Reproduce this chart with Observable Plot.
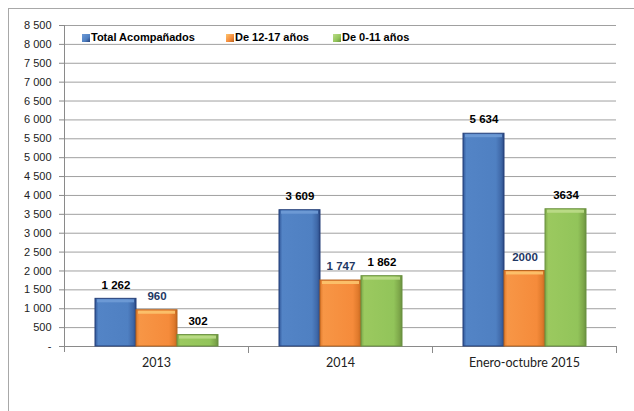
<!DOCTYPE html>
<html>
<head>
<meta charset="utf-8">
<script src="https://cdn.jsdelivr.net/npm/d3@7"></script>
<script src="https://cdn.jsdelivr.net/npm/@observablehq/plot@0.6"></script>
<style>
  body { margin: 0; background: #fff; }
  #wrap { position: relative; width: 634px; height: 411px; overflow: hidden; background: #fff;
          font-family: "Liberation Sans", Arial, sans-serif; }
  #border { position: absolute; left: 8px; top: 8px; width: 800px; height: 600px;
            border-left: 1.5px solid #a8a8a8; border-top: 1.5px solid #a8a8a8; }
  #chart { position: absolute; left: 0; top: 0; }
  .item { position: absolute; top: 31px; font-size: 11px; font-weight: bold; color: #000;
          line-height: 12px; white-space: nowrap; }
  .sw { display: inline-block; width: 8px; height: 8px; margin-right: 1px; vertical-align: -0.5px; }
</style>
</head>
<body>
<div id="wrap">
  <div id="border"></div>
  <div id="chart"></div>
  <div id="legend"></div>
</div>
<script>
// ---- data ----
const categories = ["2013", "2014", "Enero-octubre 2015"];
const series = ["Total Acompañados", "De 12-17 años", "De 0-11 años"];
const totalAcompanados = [1262, 3609, 5634];
const de12a17 = [960, 1747, 2000];
const de0a11 = [302, 1862, 3634];
const totalLabels = ["1 262", "3 609", "5 634"];
const de12a17Labels = ["960", "1 747", "2000"];
const de0a11Labels = ["302", "1 862", "3634"];
const yTicks = [0, 500, 1000, 1500, 2000, 2500, 3000, 3500, 4000, 4500, 5000, 5500, 6000, 6500, 7000, 7500, 8000, 8500];

const values = [totalAcompanados, de12a17, de0a11];
const labels = [totalLabels, de12a17Labels, de0a11Labels];
const rows = categories.flatMap((c, i) => series.map((s, j) => ({
  category: c, series: s, value: values[j][i], label: labels[j][i]
})));

// ---- styles ----
const fills = ["url(#gBlue)", "url(#gOrange)", "url(#gGreen)"];
const edges = ["#253f78", "#b8641f", "#6b9140"];
const tops = ["#6f9bd6", "#fcc46e", "#bcdc8a"];
const labelColors = ["#000", "#1f3864", "#000"];
const fmt = d => d === 0 ? "-" : d3.format(",")(d).replace(/,/g, " ");

const marks = [
  Plot.gridY(yTicks, {stroke: "#a0a0a0", strokeOpacity: 1, strokeWidth: 1}),
  Plot.ruleY([0], {stroke: "#8a8a8a"}),
  Plot.frame({anchor: "left", facetAnchor: "left", stroke: "#8a8a8a", insetBottom: -5}),
  Plot.frame({anchor: "right", insetTop: 321, insetBottom: -6, stroke: "#8a8a8a"}),
  Plot.axisY({ticks: yTicks, tickFormat: fmt, tickSize: 5, tickPadding: 8, fontSize: 11,
              fill: "#222", stroke: "#8a8a8a", label: null}),
  Plot.axisFx({anchor: "bottom", tickSize: 0, tickPadding: 12, fontSize: 12.5,
               fontFamily: "Lato, 'Open Sans', sans-serif", fill: "#222", label: null})
];
series.forEach((s, j) => {
  const sub = rows.filter(d => d.series === s);
  marks.push(
    Plot.barY(sub, {fx: "category", x: "series", y: "value", fill: fills[j], stroke: edges[j], strokeWidth: 1}),
    Plot.barY(sub, {fx: "category", x: "series", y1: "value", y2: "value", insetTop: 1, insetBottom: -4,
                    insetLeft: 2, insetRight: 2, fill: tops[j], fillOpacity: 0.9}),
    Plot.text(sub, {fx: "category", x: "series", y: "value", text: "label", dy: -14,
                    fontSize: 11.5, fontWeight: "bold", fill: labelColors[j]})
  );
});

const chart = Plot.plot({
  width: 634, height: 411,
  marginLeft: 63, marginRight: 17, marginTop: 25, marginBottom: 65,
  style: {fontFamily: "'Liberation Sans', Arial, sans-serif", fontSize: "11px", background: "transparent", overflow: "visible"},
  fx: {domain: categories, padding: 0, label: null},
  x: {domain: series, paddingInner: 0, paddingOuter: 0.71, axis: null},
  y: {domain: [0, 8500], label: null},
  marks
});

// gradients
const defs = d3.select(chart).insert("defs", ":first-child");
function grad(id, stops) {
  const g = defs.append("linearGradient").attr("id", id).attr("x1", "0").attr("x2", "1").attr("y1", "0").attr("y2", "0");
  stops.forEach(([o, c]) => g.append("stop").attr("offset", o).attr("stop-color", c));
}
grad("gBlue", [[0, "#2f5597"], [0.08, "#5384c6"], [0.8, "#4f80c2"], [0.93, "#3f68a8"], [1, "#2a4a86"]]);
grad("gOrange", [[0, "#e07a2c"], [0.08, "#f79646"], [0.8, "#f58b3b"], [0.93, "#e07a2c"], [1, "#c4661f"]]);
grad("gGreen", [[0, "#7ea84a"], [0.08, "#9bc95f"], [0.8, "#92c45a"], [0.93, "#7ea84a"], [1, "#6a9140"]]);

document.getElementById("chart").appendChild(chart);

// legend
const legendLeft = [82, 226, 333];
const swatchColors = ["#4f80c2", "#f58b3b", "#92c45a"];
const legend = document.getElementById("legend");
series.forEach((s, j) => {
  const it = document.createElement("div");
  it.className = "item";
  it.style.left = legendLeft[j] + "px";
  it.innerHTML = `<span class="sw" style="background:linear-gradient(135deg, ${tops[j]}, ${swatchColors[j]} 60%, ${edges[j]})"></span>${s}`;
  legend.appendChild(it);
});
</script>
</body>
</html>
